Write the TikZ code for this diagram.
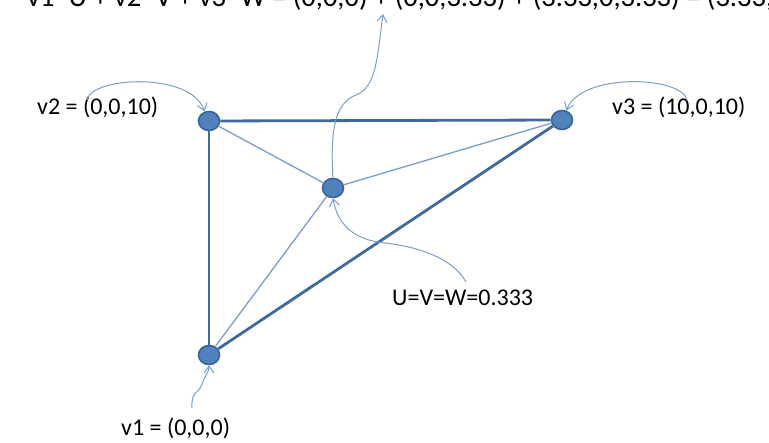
\documentclass[tikz,border=0pt]{standalone}
\usepackage{fontspec}
\setmainfont{Carlito}
\usetikzlibrary{shapes.geometric, arrows.meta}

\definecolor{vfill}{HTML}{4F81BD}
\definecolor{vborder}{HTML}{3A6494}
\definecolor{vedge}{HTML}{42699C}
\definecolor{vspoke}{HTML}{7C9CC8}

\begin{document}
\begin{tikzpicture}[
    x=1pt, y=-1pt,
    > = {Straight Barb[length=7pt, width=10pt]},
    vert/.style={ellipse, draw=vborder, fill=vfill, line width=1.6pt, minimum width=21pt, minimum height=19pt, inner sep=0pt},
    rim/.style={draw=vedge, line width=2.8pt},
    spoke/.style={draw=vspoke, line width=1.3pt},
    callout/.style={draw=vspoke, line width=1pt, ->},
    lbl/.style={font=\fontsize{24}{29}\selectfont, anchor=base west, inner sep=0pt}
]
\useasboundingbox (0,0) rectangle (769,443);
\clip (0,0) rectangle (769,443);

% vertices of the triangle
\node[vert] (v2) at (209,121) {};
\node[vert] (v3) at (562,120) {};
\node[vert] (v1) at (209,355) {};
\node[vert] (vc) at (333,188) {};

% edges
\draw[rim] (v2) -- (v3);
\draw[rim] (v2) -- (v1);
\draw[rim] (v1) -- (v3);
\draw[spoke] (vc) -- (v1);
\draw[spoke] (vc) -- (v2);
\draw[spoke] (vc) -- (v3);

% labels
\node[lbl] (t2) at (37,115) {v2 = (0,0,10)};
\node[lbl] (t3) at (612,115) {v3 = (10,0,10)};
\node[lbl] (tc) at (392,306) {U=V=W=0.333};
\node[lbl] (t1) at (121,436) {v1 = (0,0,0)};
\node[lbl, font=\fontsize{28.5}{34}\selectfont] (top) at (27,6.5)
    {v1*U + v2*V + v3*W = (0,0,0) + (0,0,3.33) + (3.33,0,3.33) = (3.33,0,6.66)};

% callout arrows
\coordinate (c2) at (87,100);
\coordinate (c3) at (687,100);
\coordinate (cc) at (466,282);
\coordinate (c1) at (192,408);
\coordinate (ctop) at (383,14);
\draw[callout] (c2) .. controls (92,76) and (192,72) .. (v2.115);
\draw[callout] (c3) .. controls (682,76) and (581,72) .. (v3.65);
\draw[callout] (vc.north) .. controls (330,130) and (335,103) .. (356,95)
    .. controls (376,87) and (377,60) .. (ctop);
\draw[callout] (cc) .. controls (452,256) and (412,246) .. (385,243)
    .. controls (355,240) and (338,226) .. (vc.south);
\draw[callout] (c1) .. controls (191,390) and (199,394) .. (202,384)
    .. controls (205,375) and (209,373) .. (v1.south);
\end{tikzpicture}
\end{document}
